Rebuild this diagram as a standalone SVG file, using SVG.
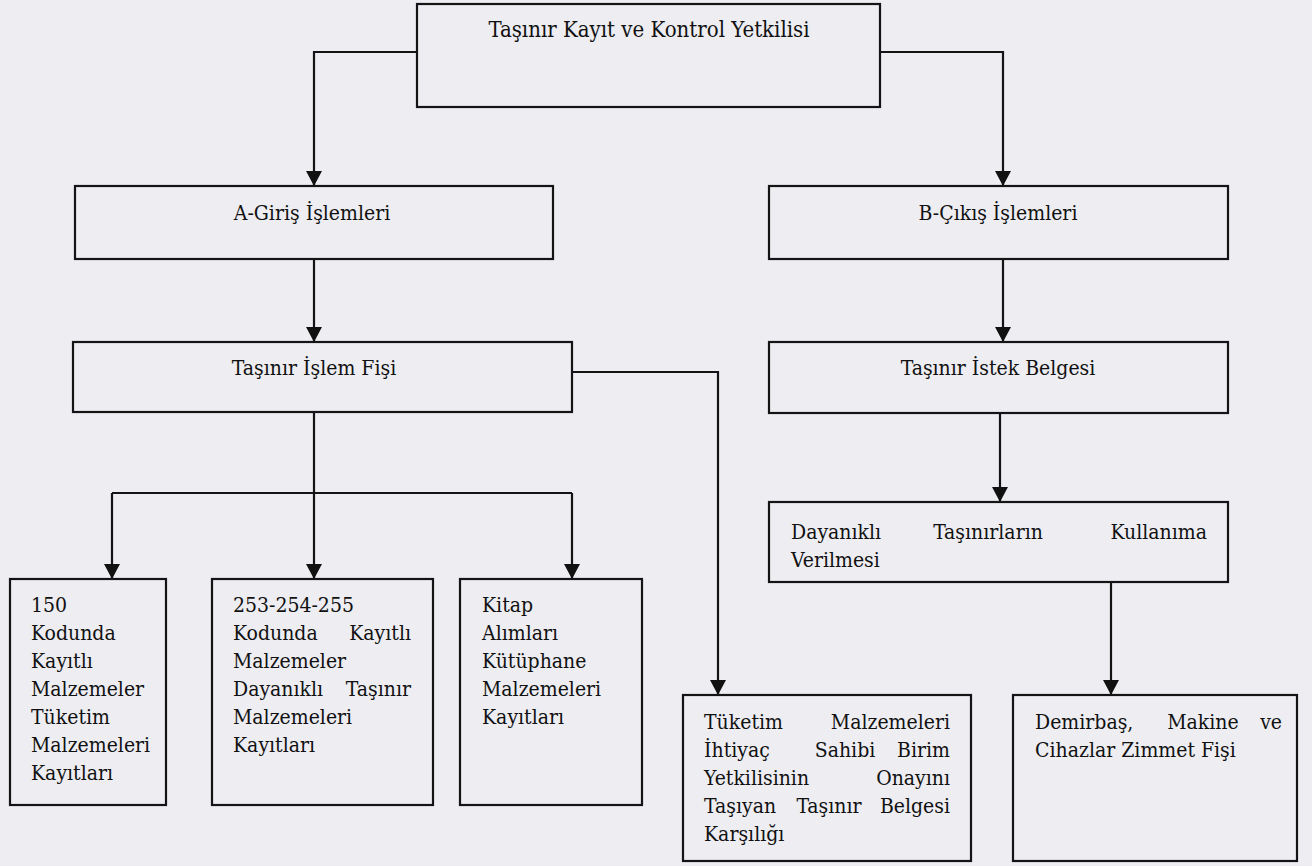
<svg xmlns="http://www.w3.org/2000/svg" width="1312" height="866" viewBox="0 0 1312 866">
  <defs>
    <marker id="arrow" markerUnits="userSpaceOnUse" markerWidth="16" markerHeight="17" refX="15" refY="8" orient="auto">
      <path d="M0,0 L15,8 L0,16 z" fill="#111"/>
    </marker>
    <style>
      .box { fill: none; stroke: #141414; stroke-width: 2.2; }
      .conn { fill: none; stroke: #141414; stroke-width: 2.2; }
      .t { font-family: "DejaVu Serif Condensed", "DejaVu Serif", serif; font-size: 21px; fill: #111; }
      .title { font-size: 22px; }
      .c { text-anchor: middle; }
      .m { text-anchor: middle; }
      .r { text-anchor: end; }
    </style>
  </defs>

  <!-- paper background -->
  <rect width="1312" height="866" fill="#ededf2"/>

  <!-- connectors -->
  <g id="connectors">
    <path class="conn" d="M417,52 H314 V186" marker-end="url(#arrow)"/>
    <path class="conn" d="M880,52 H1003 V186" marker-end="url(#arrow)"/>
    <path class="conn" d="M314,259 V342" marker-end="url(#arrow)"/>
    <path class="conn" d="M1003,259 V342" marker-end="url(#arrow)"/>
    <path class="conn" d="M572,372 H718 V695" marker-end="url(#arrow)"/>
    <path class="conn" d="M314,412 V493"/>
    <path class="conn" d="M112,493 H572"/>
    <path class="conn" d="M112,493 V579" marker-end="url(#arrow)"/>
    <path class="conn" d="M314,493 V579" marker-end="url(#arrow)"/>
    <path class="conn" d="M572,493 V579" marker-end="url(#arrow)"/>
    <path class="conn" d="M1000,413 V502" marker-end="url(#arrow)"/>
    <path class="conn" d="M1111,582 V695" marker-end="url(#arrow)"/>
  </g>

  <g id="yetkili">
    <rect class="box" x="417" y="4" width="463" height="103"/>
    <text class="t title c" x="649" y="37">Taşınır Kayıt ve Kontrol Yetkilisi</text>
  </g>

  <g id="giris">
    <rect class="box" x="75" y="186" width="478" height="73"/>
    <text class="t c" x="312" y="220">A-Giriş İşlemleri</text>
  </g>

  <g id="cikis">
    <rect class="box" x="769" y="186" width="459" height="73"/>
    <text class="t c" x="998" y="220">B-Çıkış İşlemleri</text>
  </g>

  <g id="islem-fisi">
    <rect class="box" x="73" y="342" width="499" height="70"/>
    <text class="t c" x="314" y="375">Taşınır İşlem Fişi</text>
  </g>

  <g id="istek-belgesi">
    <rect class="box" x="769" y="342" width="459" height="71"/>
    <text class="t c" x="998" y="375">Taşınır İstek Belgesi</text>
  </g>

  <g id="kullanima-verilmesi">
    <rect class="box" x="769" y="502" width="459" height="80"/>
    <text class="t" x="791" y="539">Dayanıklı</text>
    <text class="t m" x="988" y="539">Taşınırların</text>
    <text class="t r" x="1207" y="539">Kullanıma</text>
    <text class="t" x="791" y="567">Verilmesi</text>
  </g>

  <g id="kod-150">
    <rect class="box" x="10" y="579" width="156" height="226"/>
    <text class="t" x="31" y="612">150</text>
    <text class="t" x="31" y="640">Kodunda</text>
    <text class="t" x="31" y="668">Kayıtlı</text>
    <text class="t" x="31" y="696">Malzemeler</text>
    <text class="t" x="31" y="724">Tüketim</text>
    <text class="t" x="31" y="752">Malzemeleri</text>
    <text class="t" x="31" y="780">Kayıtları</text>
  </g>

  <g id="kod-253">
    <rect class="box" x="212" y="579" width="221" height="226"/>
    <text class="t" x="233" y="612">253-254-255</text>
    <text class="t" x="233" y="640">Kodunda</text>
    <text class="t r" x="411" y="640">Kayıtlı</text>
    <text class="t" x="233" y="668">Malzemeler</text>
    <text class="t" x="233" y="696">Dayanıklı</text>
    <text class="t r" x="411" y="696">Taşınır</text>
    <text class="t" x="233" y="724">Malzemeleri</text>
    <text class="t" x="233" y="752">Kayıtları</text>
  </g>

  <g id="kitap">
    <rect class="box" x="460" y="579" width="182" height="226"/>
    <text class="t" x="482" y="612">Kitap</text>
    <text class="t" x="482" y="640">Alımları</text>
    <text class="t" x="482" y="668">Kütüphane</text>
    <text class="t" x="482" y="696">Malzemeleri</text>
    <text class="t" x="482" y="724">Kayıtları</text>
  </g>

  <g id="tuketim">
    <rect class="box" x="683" y="695" width="288" height="166"/>
    <text class="t" x="704" y="729">Tüketim</text>
    <text class="t r" x="950" y="729">Malzemeleri</text>
    <text class="t" x="704" y="757">İhtiyaç</text>
    <text class="t m" x="845" y="757">Sahibi</text>
    <text class="t r" x="950" y="757">Birim</text>
    <text class="t" x="704" y="785">Yetkilisinin</text>
    <text class="t r" x="950" y="785">Onayını</text>
    <text class="t" x="704" y="813">Taşıyan</text>
    <text class="t m" x="829" y="813">Taşınır</text>
    <text class="t r" x="950" y="813">Belgesi</text>
    <text class="t" x="704" y="841">Karşılığı</text>
  </g>

  <g id="zimmet">
    <rect class="box" x="1013" y="695" width="284" height="166"/>
    <text class="t" x="1035" y="729">Demirbaş,</text>
    <text class="t m" x="1203" y="729">Makine</text>
    <text class="t r" x="1282" y="729">ve</text>
    <text class="t" x="1035" y="757">Cihazlar Zimmet Fişi</text>
  </g>
</svg>
